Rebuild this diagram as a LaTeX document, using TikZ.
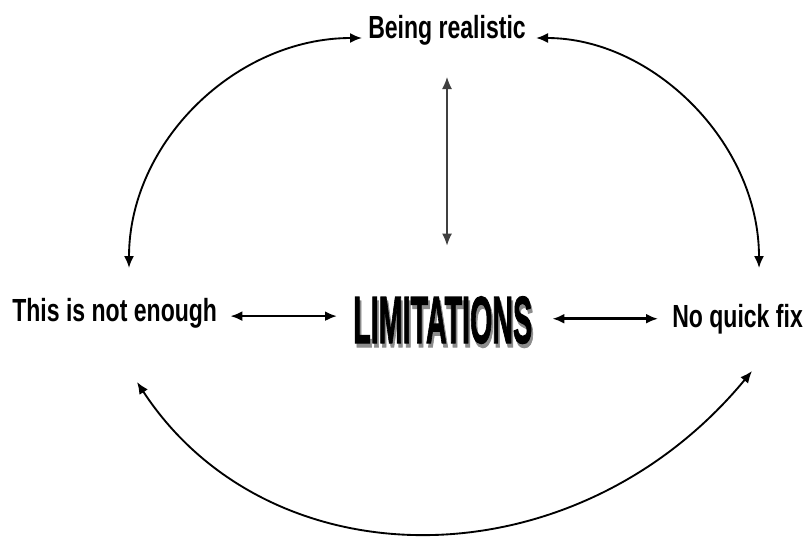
\documentclass[tikz,border=0pt]{standalone}
\usepackage{fontspec}
\setmainfont{Liberation Sans}
\newfontfamily\limfont{Liberation Sans}[BoldFeatures={FakeBold=2}]
\usetikzlibrary{arrows.meta,positioning,calc}
\newcommand{\narrowtxt}[1]{\scalebox{0.72}[1]{#1}}
\newcommand{\shadowtxt}[1]{\rlap{\hspace{3pt}\raisebox{-3pt}{\textcolor{black!45}{#1}}}#1}
\tikzset{
  txt/.style={anchor=base west,inner sep=0pt,font=\fontsize{24}{28}\selectfont\bfseries},
  limtxt/.style={anchor=base west,inner sep=0pt,font={\limfont\fontsize{50}{56}\selectfont\bfseries}},
  link/.style={<->,line width=1.4pt},
}
\begin{document}
\begin{tikzpicture}[x=0.75pt,y=-0.75pt,>={Latex[length=9pt,width=7.5pt]}]
\useasboundingbox[fill=white] (0,0) rectangle (805,539);
\node[txt] (realistic) at (368,38) {\narrowtxt{Being realistic}};
\node[txt] (notenough) at (12,321) {\narrowtxt{This is not enough}};
\node[txt] (quickfix) at (672,327) {\narrowtxt{No quick fix}};
\node[limtxt] (lim) at (353,343) {\scalebox{0.43}[1]{\shadowtxt{LIMITATIONS}}};
\coordinate (tipL) at (129,268);
\coordinate (tipR) at (759,268);
\coordinate (botL) at (137,382);
\coordinate (botR) at (752,371);
\draw[link,shorten <=4.5pt] (realistic.base west) .. controls (236,38) and (129,142) .. (tipL);
\draw[link,shorten <=7.5pt] (realistic.base east) .. controls (652,38) and (759,142) .. (tipR);
\draw[link] (botL) .. controls (270,585) and (575,585) .. (botR);
\draw[<->,line width=0.9pt,black!75,shorten <=24pt,shorten >=38pt] (realistic.south) -- (realistic.south |- lim.north);
\draw[<->,line width=2pt,shorten <=9.75pt,shorten >=12pt] ([yshift=-2.5pt]notenough.east) -- ([yshift=-2.5pt]notenough.east -| lim.west);
\draw[<->,line width=2pt,shorten <=15pt,shorten >=10.5pt] (quickfix.west -| lim.east) -- (quickfix.west);
\end{tikzpicture}
\end{document}
